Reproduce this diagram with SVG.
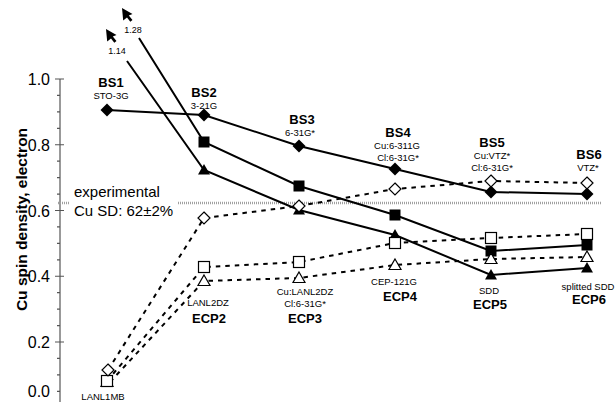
<svg xmlns="http://www.w3.org/2000/svg" width="616" height="402" viewBox="0 0 616 402">
<style>
text{font-family:"Liberation Sans",Arial,sans-serif;fill:#000}
.ax{stroke:#555;stroke-width:1.2;fill:none}
.tl{font-size:16px;text-anchor:end}
.solid{fill:none;stroke:#000;stroke-width:2}
.dash{fill:none;stroke:#000;stroke-width:2;stroke-dasharray:4.5 5}
.exp{fill:none;stroke:#a0a0a0;stroke-width:2.5;stroke-dasharray:1 1}
.fm{fill:#000}
.om{fill:#fff;stroke:#000;stroke-width:1.2}
.b{font-size:13px;font-weight:bold;text-anchor:middle}
.s{font-size:9.5px;text-anchor:middle}
.e{font-size:15px}
.v{font-size:9px;text-anchor:middle}
</style>
<defs>
<path id="fd" class="fm" d="M0,-6.5L6.5,0L0,6.5L-6.5,0Z"/>
<rect id="fs" class="fm" x="-5.5" y="-5.5" width="11" height="11"/>
<path id="ft" class="fm" d="M0,-6L6,4.5L-6,4.5Z"/>
<path id="od" class="om" d="M0,-6L6,0L0,6L-6,0Z"/>
<rect id="os" class="om" x="-5.5" y="-5.5" width="11" height="11"/>
<path id="ot" class="om" d="M0,-6L6,4.5L-6,4.5Z"/>
<path id="cur" class="fm" d="M0,0L10.5,6L6.8,7.6L10.5,12L8.3,13.8L5,9.6L1.2,12.5Z"/>
</defs>

<g id="axis">
<line class="ax" x1="60" y1="79" x2="60" y2="402"/>
<path class="ax" d="M55,79H64M55,144.75H64M55,210.5H64M55,276.25H64M55,342H64M55,407.75H64"/>
<path class="ax" d="M57,95.4H60M57,111.9H60M57,128.3H60M57,161.2H60M57,177.6H60M57,194.1H60M57,226.9H60M57,243.4H60M57,259.8H60M57,292.7H60M57,309.1H60M57,325.6H60M57,358.4H60M57,374.9H60M57,391.3H60"/>
<text class="tl" x="50" y="85">1.0</text>
<text class="tl" x="50" y="151">0.8</text>
<text class="tl" x="50" y="216.5">0.6</text>
<text class="tl" x="50" y="282">0.4</text>
<text class="tl" x="50" y="348">0.2</text>
<text class="tl" x="50" y="397">0.0</text>
<text x="27" y="219.5" transform="rotate(-90 27 219.5)" style="font-size:15.5px;font-weight:bold;text-anchor:middle">Cu spin density, electron</text>
</g>

<g id="experimental">
<line class="exp" x1="58" y1="203" x2="69" y2="203"/>
<line class="exp" x1="178" y1="203" x2="601" y2="203"/>
<text class="e" x="74" y="197">experimental</text>
<text class="e" x="74" y="216">Cu SD: 62±2%</text>
</g>

<g id="connectors">
<polyline class="solid" points="107,110 204,115 299,146 395,169 491,192 587,194"/>
<polyline class="solid" points="139,38 204,142 299,186 395,215 491,251 587,245"/>
<polyline class="solid" points="127,61 204,170 299,210 395,235 491,275 587,268"/>
<polyline class="dash" points="108,370 204,218 299,206 395,189 491,181 587,183"/>
<polyline class="dash" points="107,381 204,267 299,262 395,243 491,238 587,234"/>
<polyline class="dash" points="110,382 204,281 299,278 395,265 491,259 587,257"/>
</g>

<g id="offscale">
<use href="#cur" x="122" y="8"/>
<use href="#cur" x="106" y="29"/>
<text class="v" x="133" y="33">1.28</text>
<text class="v" x="117" y="54">1.14</text>
</g>

<g id="bs-markers">
<use href="#fd" x="107" y="110"/>
<use href="#fd" x="204" y="115"/>
<use href="#fd" x="299" y="146"/>
<use href="#fd" x="395" y="169"/>
<use href="#fd" x="491" y="192"/>
<use href="#fd" x="587" y="194"/>
</g>
<g id="ecp-filled-markers">
<use href="#fs" x="204" y="142"/>
<use href="#fs" x="299" y="186"/>
<use href="#fs" x="395" y="215"/>
<use href="#fs" x="491" y="251"/>
<use href="#fs" x="587" y="245"/>
<use href="#ft" x="204" y="170"/>
<use href="#ft" x="299" y="210"/>
<use href="#ft" x="395" y="235"/>
<use href="#ft" x="491" y="275"/>
<use href="#ft" x="587" y="268"/>
</g>
<g id="open-markers">
<use href="#ot" x="107" y="382"/>
<use href="#os" x="107" y="381"/>
<use href="#od" x="108" y="370"/>
<use href="#od" x="204" y="218"/>
<use href="#od" x="299" y="206"/>
<use href="#od" x="395" y="189"/>
<use href="#od" x="491" y="181"/>
<use href="#od" x="587" y="183"/>
<use href="#os" x="204" y="267"/>
<use href="#os" x="299" y="262"/>
<use href="#os" x="395" y="243"/>
<use href="#os" x="491" y="238"/>
<use href="#os" x="587" y="234"/>
<use href="#ot" x="204" y="281"/>
<use href="#ot" x="299" y="278"/>
<use href="#ot" x="395" y="265"/>
<use href="#ot" x="491" y="259"/>
<use href="#ot" x="587" y="257"/>
</g>

<g id="BS1"><text class="b" x="111" y="87">BS1</text><text class="s" x="111" y="99">STO-3G</text></g>
<g id="BS2"><text class="b" x="204" y="97">BS2</text><text class="s" x="204" y="109">3-21G</text></g>
<g id="BS3"><text class="b" x="302" y="124">BS3</text><text class="s" x="300" y="136">6-31G*</text></g>
<g id="BS4"><text class="b" x="398" y="137">BS4</text><text class="s" x="397" y="148.5">Cu:6-311G</text><text class="s" x="398" y="161">Cl:6-31G*</text></g>
<g id="BS5"><text class="b" x="492" y="147">BS5</text><text class="s" x="492" y="159">Cu:VTZ*</text><text class="s" x="492" y="170.5">Cl:6-31G*</text></g>
<g id="BS6"><text class="b" x="589" y="159">BS6</text><text class="s" x="588" y="171">VTZ*</text></g>
<g id="LANL1MB"><text class="s" x="103" y="400">LANL1MB</text></g>
<g id="ECP2"><text class="s" x="208" y="306">LANL2DZ</text><text class="b" x="209" y="323">ECP2</text></g>
<g id="ECP3"><text class="s" x="305" y="295">Cu:LANL2DZ</text><text class="s" x="305" y="306.5">Cl:6-31G*</text><text class="b" x="305" y="323">ECP3</text></g>
<g id="ECP4"><text class="s" x="394" y="284.5">CEP-121G</text><text class="b" x="400" y="301">ECP4</text></g>
<g id="ECP5"><text class="s" x="489" y="293.5">SDD</text><text class="b" x="490" y="309">ECP5</text></g>
<g id="ECP6"><text class="s" x="588" y="289.5">splitted SDD</text><text class="b" x="589" y="304">ECP6</text></g>
</svg>
